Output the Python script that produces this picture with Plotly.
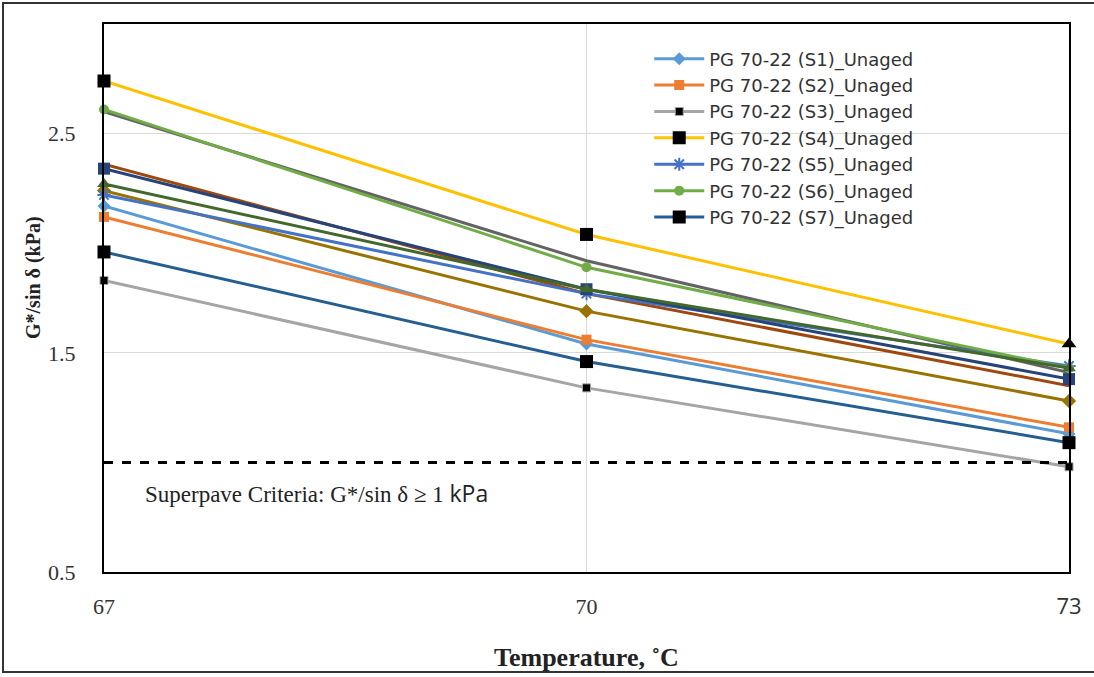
import plotly.graph_objects as go

temps = [67, 70, 73]
temp_labels = ["67", "70", "<span style='font-family:Open Sans'>73</span>"]

# G*/sin(delta) in kPa for each binder sample
s1 = [2.17, 1.54, 1.13]
s2 = [2.12, 1.56, 1.16]
s3 = [1.83, 1.34, 0.98]
s4 = [2.74, 2.04, 1.54]
s5 = [2.22, 1.77, 1.44]
s6 = [2.61, 1.89, 1.43]
s7 = [1.96, 1.46, 1.09]
s8 = [2.36, 1.77, 1.35]
s9 = [2.60, 1.92, 1.41]
s10 = [2.24, 1.69, 1.28]
s11 = [2.34, 1.79, 1.38]
s12 = [2.27, 1.79, 1.43]

criterion = 1.0

serif = "Liberation Serif"

fig = go.Figure()

def add(name, y, color, symbol=None, msize=9, mcolor=None, legend=True, mline=None):
    mode = "lines+markers" if symbol else "lines"
    marker = dict(symbol=symbol, size=msize, color=mcolor or color)
    if mline:
        marker["line"] = mline
    fig.add_trace(go.Scatter(
        x=temps, y=y, name=name, mode=mode,
        line=dict(color=color, width=3),
        marker=marker, showlegend=legend, cliponaxis=False,
    ))

# series without legend entries (drawn first, underneath)
add("PG 70-22 (S8)", s8, "#9E480E", legend=False)
add("PG 70-22 (S9)", s9, "#636363", legend=False)
add("PG 70-22 (S10)", s10, "#997300", "diamond", 11, legend=False)

add("PG 70-22 (S1)_Unaged", s1, "#5B9BD5", "diamond", 10)
add("PG 70-22 (S2)_Unaged", s2, "#ED7D31", "square", 10)
add("PG 70-22 (S3)_Unaged", s3, "#A5A5A5", "square", 8, "black",
    mline=dict(color="#A5A5A5", width=1))
add("PG 70-22 (S4)_Unaged", s4, "#FFC000", ["square", "square", "triangle-up"], 13, "black")
add("PG 70-22 (S5)_Unaged", s5, "#4472C4", "asterisk-open", 11,
    mline=dict(color="#4472C4", width=2))
add("PG 70-22 (S6)_Unaged", s6, "#70AD47", "circle", 10)
add("PG 70-22 (S7)_Unaged", s7, "#255E91", "square", 13, "black")

add("PG 70-22 (S11)", s11, "#264478", "square", 12, legend=False)
add("PG 70-22 (S12)", s12, "#43682B", "triangle-up", 12, legend=False)

# Superpave criterion line
fig.add_shape(type="line", xref="paper", x0=0, x1=1, yref="y", y0=criterion, y1=criterion,
              line=dict(color="black", width=3, dash="dash"), layer="above")
fig.add_annotation(
    x=0.04, xref="paper", y=0.86, yref="y", xanchor="left", yanchor="middle",
    text="Superpave Criteria: G*/sin δ ≥ 1 <span style='font-family:Open Sans'>kPa</span>",
    showarrow=False, font=dict(family=serif, size=23, color="#222"),
)

# axis titles
fig.add_annotation(
    x=-71 / 965, xref="paper", y=(572 - 278) / 548, yref="paper",
    text="<b>G*/sin δ (kPa)</b>", textangle=-90, showarrow=False,
    xanchor="center", yanchor="middle", font=dict(family=serif, size=20, color="#222"),
)
fig.add_annotation(
    x=0.5, xref="paper", y=-85 / 548, yref="paper",
    text="<b>Temperature, ˚C</b>", showarrow=False,
    xanchor="center", yanchor="middle", font=dict(family=serif, size=26, color="#222"),
)

# outer frame around the whole chart
fig.add_shape(type="rect", xref="paper", yref="paper",
              x0=-101 / 965, x1=1083 / 965, y0=-100 / 548, y1=569 / 548,
              line=dict(color="#333", width=2))

fig.update_layout(
    width=1094, height=677,
    margin=dict(l=104, r=25, t=24, b=105),
    paper_bgcolor="white", plot_bgcolor="white",
    showlegend=True,
    legend=dict(x=0.565, y=0.97, xanchor="left", yanchor="top",
                font=dict(family="DejaVu Sans", size=18, color="#333"),
                bgcolor="rgba(255,255,255,0)", tracegroupgap=0, itemwidth=50),
    xaxis=dict(range=[67, 73], tickvals=temps, ticktext=temp_labels, ticks="",
               showgrid=True, gridcolor="#D9D9D9", gridwidth=1,
               showline=True, linecolor="black", linewidth=2, mirror=True,
               tickfont=dict(family=serif, size=22, color="#333"),
               ticklabelstandoff=14, zeroline=False),
    yaxis=dict(range=[0.5, 3.0], tickvals=[0.5, 1.5, 2.5], ticktext=["0.5", "1.5", "2.5"],
               ticks="", showgrid=True, gridcolor="#D9D9D9", gridwidth=1,
               showline=True, linecolor="black", linewidth=2, mirror=True,
               tickfont=dict(family=serif, size=22, color="#333"),
               ticklabelstandoff=22, zeroline=False),
)

fig.write_html("out.html")
